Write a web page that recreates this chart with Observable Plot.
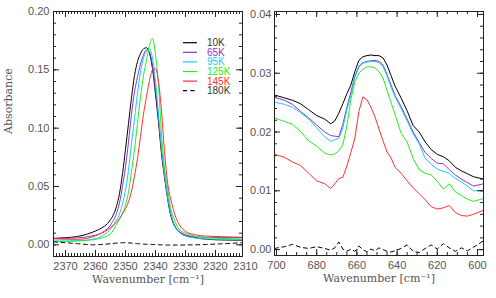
<!DOCTYPE html>
<html><head><meta charset="utf-8">
<script src="https://cdn.jsdelivr.net/npm/d3@7"></script>
<script src="https://cdn.jsdelivr.net/npm/@observablehq/plot@0.6"></script>
<style>
html,body{margin:0;padding:0;background:#fff;}
#wrap{position:relative;width:496px;height:298px;overflow:hidden;background:#fff;}
#wrap svg{position:absolute;top:0;overflow:visible;}
</style></head><body><div id="wrap"></div>
<script>
// ---------- data ----------
const seriesNames = ["10K", "65K", "95K", "125K", "145K", "180K"];
const seriesColors = ["#000000", "#8b35c5", "#18c8ff", "#22ee22", "#ff3030", "#000000"];
const legendTextColors = ["#333333", "#8b35c5", "#18c8ff", "#22ee22", "#ff3030", "#333333"];

// left panel (CO2 stretch region)
const wnA = [2374, 2370, 2366, 2363, 2361, 2359, 2357, 2355, 2353, 2352, 2351, 2350, 2349, 2348, 2347, 2346, 2345, 2344, 2343, 2342, 2341, 2340, 2339, 2338, 2337, 2336, 2335, 2334, 2333, 2332, 2330, 2327, 2323, 2318, 2311];
const a10K  = [.0055, .0061, .0072, .0090, .0108, .0130, .0160, .0215, .0330, .0440, .0610, .0820, .1040, .1260, .1450, .1570, .1640, .1680, .1690, .1640, .1510, .1290, .1050, .0780, .0580, .0400, .0260, .0180, .0135, .0110, .0082, .0062, .0048, .0042, .0040];
const a65K  = [.0056, .0056, .0060, .0068, .0078, .0090, .0118, .0170, .0270, .0360, .0500, .0670, .0880, .1120, .1310, .1440, .1550, .1630, .1670, .1650, .1540, .1330, .1080, .0810, .0600, .0420, .0280, .0190, .0140, .0112, .0085, .0070, .0065, .0062, .0062];
const a95K  = [.0033, .0033, .0036, .0041, .0048, .0062, .0088, .0135, .0210, .0265, .0350, .0470, .0640, .0870, .1080, .1300, .1480, .1600, .1660, .1680, .1600, .1400, .1120, .0840, .0610, .0420, .0280, .0190, .0135, .0105, .0075, .0060, .0050, .0047, .0045];
const a125K = [.0030, .0030, .0033, .0038, .0043, .0052, .0068, .0092, .0175, .0220, .0270, .0340, .0450, .0630, .0820, .1040, .1270, .1450, .1580, .1710, .1770, .1630, .1370, .0950, .0660, .0490, .0320, .0235, .0170, .0130, .0100, .0075, .0062, .0055, .0050];
const a145K = [.0052, .0048, .0047, .0055, .0068, .0088, .0112, .0148, .0195, .0225, .0265, .0310, .0370, .0460, .0590, .0740, .0930, .1120, .1270, .1410, .1500, .1510, .1400, .1150, .0800, .0540, .0400, .0300, .0220, .0170, .0115, .0088, .0075, .0070, .0065];
const a180K = [.0025, .0018, .0010, .0003, .0000, .0001, .0005, .0010, .0015, .0017, .0018, .0018, .0017, .0015, .0013, .0010, .0008, .0006, .0005, .0004, .0003, .0002, .0001, .0000, -.0001, -.0002, -.0002, -.0002, -.0002, -.0002, -.0001, .0000, .0003, .0009, .0018];

// right panel (CO2 bend region)
const wnB = [701, 696, 692, 688, 684, 680, 676, 673, 671, 669, 667, 665, 663, 661, 659, 657, 655, 653, 651, 649, 647, 645, 643, 641, 638, 635, 632, 629, 626, 623, 620, 617, 614, 611, 608, 605, 602, 597];
const b10K  = [.0263, .0258, .0254, .0248, .0238, .0228, .0222, .0214, .0219, .0232, .0248, .0265, .0280, .0303, .0322, .0328, .0330, .0331, .0330, .0330, .0326, .0314, .0296, .0278, .0258, .0236, .0211, .0200, .0183, .0170, .0162, .0158, .0151, .0140, .0134, .0129, .0124, .0120];
const b65K  = [.0259, .0254, .0247, .0235, .0224, .0212, .0200, .0194, .0193, .0192, .0213, .0242, .0268, .0295, .0312, .0318, .0320, .0321, .0322, .0320, .0314, .0298, .0280, .0262, .0243, .0222, .0200, .0182, .0165, .0155, .0147, .0146, .0136, .0127, .0120, .0114, .0108, .0112];
const b95K  = [.0251, .0247, .0242, .0233, .0222, .0207, .0192, .0184, .0187, .0189, .0207, .0238, .0262, .0293, .0310, .0317, .0319, .0320, .0320, .0318, .0311, .0296, .0276, .0260, .0240, .0219, .0197, .0180, .0155, .0145, .0137, .0133, .0130, .0121, .0115, .0108, .0100, .0101];
const b125K = [.0224, .0218, .0213, .0201, .0185, .0176, .0164, .0161, .0163, .0168, .0178, .0210, .0255, .0286, .0300, .0307, .0311, .0311, .0309, .0303, .0292, .0271, .0250, .0230, .0198, .0183, .0155, .0136, .0130, .0127, .0116, .0103, .0112, .0098, .0092, .0086, .0082, .0087];
const b145K = [.0162, .0157, .0149, .0143, .0130, .0117, .0112, .0104, .0112, .0121, .0123, .0142, .0165, .0190, .0235, .0260, .0255, .0242, .0226, .0205, .0185, .0166, .0156, .0140, .0130, .0117, .0105, .0095, .0085, .0073, .0069, .0071, .0075, .0063, .0058, .0057, .0060, .0067];
const b180K = [.0002, .0005, .0009, .0004, .0002, .0005, .0002, -.0001, .0003, .0013, .0001, -.0003, .0001, -.0003, .0006, .0000, -.0004, .0001, -.0002, .0003, .0000, -.0003, -.0004, -.0002, .0002, .0008, -.0003, -.0005, .0002, .0008, .0001, .0010, .0003, -.0003, .0003, -.0002, .0004, .0015];

// axes
const xDomainA = [2374, 2311];
const yDomainA = [-0.01, 0.20];
const xMajorA = [2370, 2360, 2350, 2340, 2330, 2320];
const xLabelsA = [2370, 2360, 2350, 2340, 2330, 2320, 2310];
const xMinorA = d3.range(2312, 2374, 1);
const yMajorA = [0.00, 0.05, 0.10, 0.15, 0.20];
const yMinorA = d3.range(-0.01, 0.2001, 0.01);

const xDomainB = [701, 597];
const yDomainB = [-0.001, 0.0405];
const xMajorB = [700, 680, 660, 640, 620, 600];
const xMinorB = d3.range(600, 701, 5);
const yMajorB = [0.00, 0.01, 0.02, 0.03, 0.04];
const yMinorB = d3.range(0, 0.0401, 0.002);

const xTitle = "Wavenumber [cm\u207B\u00B9]";
const yTitle = "Absorbance";

// ---------- build ----------
function rowsFrom(wn, arrays) {
  return arrays.map((vals, i) => wn.map((w, j) => ({wn: w, abs: vals[j], series: seriesNames[i]})));
}
const rowsA = rowsFrom(wnA, [a10K, a65K, a95K, a125K, a145K, a180K]);
const rowsB = rowsFrom(wnB, [b10K, b65K, b95K, b125K, b145K, b180K]);

const frameColor = "#222";
const labelColor = "#555";
const sans = "'Liberation Sans', Arial, Helvetica, sans-serif";
const serif = "'DejaVu Serif', serif";

function panel(o) {
  const innerW = o.width - o.ml - o.mr, innerH = o.height - o.mt - o.mb;
  const maj = 6, mnr = 3;
  const marks = [];
  o.rows.forEach((rows, i) => {
    marks.push(Plot.line(rows, {x: "wn", y: "abs", stroke: seriesColors[i], strokeWidth: 1,
      strokeDasharray: seriesNames[i] === "180K" ? "4,3.5" : null, curve: o.curve}));
  });
  // inward ticks on all four sides
  marks.push(Plot.tickX(o.xMinor, {x: d => d, insetTop: innerH - mnr, stroke: frameColor}));
  marks.push(Plot.tickX(o.xMinor, {x: d => d, insetBottom: innerH - mnr, stroke: frameColor}));
  marks.push(Plot.tickX(o.xMajor, {x: d => d, insetTop: innerH - maj, stroke: frameColor}));
  marks.push(Plot.tickX(o.xMajor, {x: d => d, insetBottom: innerH - maj, stroke: frameColor}));
  marks.push(Plot.tickY(o.yMinor, {y: d => d, insetRight: innerW - mnr, stroke: frameColor}));
  marks.push(Plot.tickY(o.yMinor, {y: d => d, insetLeft: innerW - mnr, stroke: frameColor}));
  marks.push(Plot.tickY(o.yMajor, {y: d => d, insetRight: innerW - maj, stroke: frameColor}));
  marks.push(Plot.tickY(o.yMajor, {y: d => d, insetLeft: innerW - maj, stroke: frameColor}));
  marks.push(Plot.frame({stroke: frameColor, strokeWidth: 1}));
  marks.push(Plot.axisX({ticks: o.xLabels, tickSize: 0, tickPadding: 6, label: null,
    tickFormat: d => String(d), fontSize: 11, fill: labelColor}));
  marks.push(Plot.axisY({ticks: o.yMajor, tickSize: 0, tickPadding: o.yPad, label: null,
    tickFormat: d3.format(".2f"), fontSize: 11, fill: labelColor}));
  marks.push(Plot.text([xTitle], {text: d => d, frameAnchor: "bottom", dy: 26,
    fontFamily: serif, fontSize: 11, fill: labelColor}));
  if (o.yTitle) marks.push(Plot.text([o.yTitle], {text: d => d, frameAnchor: "left", dx: -45, rotate: -90,
    fontFamily: serif, fontSize: 11, fill: labelColor}));
  return Plot.plot({
    width: o.width, height: o.height,
    marginLeft: o.ml, marginRight: o.mr, marginTop: o.mt, marginBottom: o.mb,
    x: {domain: o.xDomain, axis: null},
    y: {domain: o.yDomain, axis: null},
    style: {background: "transparent", fontFamily: sans, fontSize: "11px", color: labelColor, overflow: "visible"},
    marks
  });
}

const wrap = document.getElementById("wrap");

const p1 = panel({rows: rowsA, width: 260, height: 298, ml: 53, mr: 18, mt: 11, mb: 42,
  xDomain: xDomainA, yDomain: yDomainA, xMajor: xMajorA, xMinor: xMinorA, xLabels: xLabelsA,
  yMajor: yMajorA, yMinor: yMinorA, yPad: 4, yTitle, curve: "monotone-x"});
p1.style.left = "0px";
wrap.appendChild(p1);

// legend inside left panel
const lg = d3.select(p1).append("g").attr("font-family", sans).attr("font-size", 10)
  .attr("text-anchor", "start");
seriesNames.forEach((name, i) => {
  const yy = 42.7 + i * 9.6;
  lg.append("line").attr("x1", 183).attr("x2", 197).attr("y1", yy).attr("y2", yy)
    .attr("stroke", seriesColors[i]).attr("stroke-width", 1.2)
    .attr("stroke-dasharray", name === "180K" ? "4,3.5" : null);
  lg.append("text").attr("x", 207).attr("y", yy).attr("dy", "0.35em")
    .attr("text-anchor", "start")
    .attr("fill", legendTextColors[i]).text(name);
});

const p2 = panel({rows: rowsB, width: 250, height: 298, ml: 28, mr: 13, mt: 11, mb: 43,
  xDomain: xDomainB, yDomain: yDomainB, xMajor: xMajorB, xMinor: xMinorB, xLabels: xMajorB,
  yMajor: yMajorB, yMinor: yMinorB, yPad: 3, yTitle: null, curve: "linear"});
p2.style.left = "246px";
wrap.appendChild(p2);
</script></body></html>
